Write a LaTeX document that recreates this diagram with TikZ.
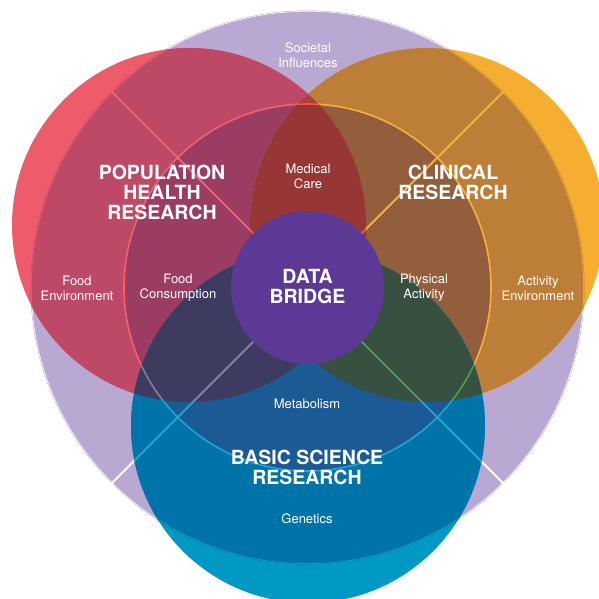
\documentclass[tikz,border=0pt]{standalone}
\usepackage{fontspec}
\setmainfont{TeX Gyre Heros}
\usetikzlibrary{calc}

\definecolor{lavender}{HTML}{B9A8D2}
\definecolor{popout}{HTML}{EE5B6B}
\definecolor{popmid}{HTML}{BD4967}
\definecolor{popin}{HTML}{9B3C63}
\definecolor{popline}{HTML}{F1626D}
\definecolor{clinout}{HTML}{F5AE30}
\definecolor{clinmid}{HTML}{BD7F37}
\definecolor{clinin}{HTML}{925E3B}
\definecolor{clinline}{HTML}{F6B236}
\definecolor{basicout}{HTML}{0099C3}
\definecolor{basicmid}{HTML}{0074A8}
\definecolor{basicin}{HTML}{1B5A94}
\definecolor{basicline}{HTML}{1EA6D0}
\definecolor{medmid}{HTML}{AD3F44}
\definecolor{medin}{HTML}{973735}
\definecolor{medline}{HTML}{F0583E}
\definecolor{navy}{HTML}{3E3B61}
\definecolor{navyline}{HTML}{847E9C}
\definecolor{moss}{HTML}{38503F}
\definecolor{mossline}{HTML}{4A9E5C}
\definecolor{bridge}{HTML}{5B3995}

\tikzset{
  small/.style={text=white, align=center, font=\fontsize{13}{15}\selectfont},
  heading/.style={text=white, align=center, font=\fontsize{19.5}{20}\selectfont\bfseries},
}

% radii
\def\rP{277}
\def\rI{183.5}
\def\rC{177}
\def\rD{76.5}

% white guide lines, redrawn in each circle in its own colour
\newcommand{\guides}[1]{%
  \foreach \a in {45,135,225,315}
    \draw[#1, line width=1.8pt] (core) -- ++(\a:\rP);
  \draw[#1, line width=1.6pt] (core) circle (\rI);
  \draw[#1, line width=0.6pt] (core) circle (\rP-0.8);
}

\begin{document}
\begin{tikzpicture}[x=1pt, y=-1pt]
    \useasboundingbox (0,0) rectangle (598,599);
    \coordinate (core) at (307.5,287.5);
    \coordinate (pop) at (189,225);
    \coordinate (clin) at (427,225);
    \coordinate (basic) at (308,426);

    \fill[lavender] (core) circle (\rP);
    \begin{scope}
        \clip (core) circle (\rP);
        \guides{white}
    \end{scope}

    % the three research circles
    \foreach \c/\col in {pop/pop, clin/clin, basic/basic} {
        \fill[\col out] (\c) circle (\rC);
        \begin{scope}
            \clip (\c) circle (\rC);
            \fill[\col mid] (core) circle (\rP);
            \fill[\col in] (core) circle (\rI);
            \guides{\col line}
        \end{scope}
    }

    % overlaps
    \begin{scope}
        \clip (pop) circle (\rC);
        \clip (clin) circle (\rC);
        \fill[medmid] (core) circle (\rP);
        \fill[medin] (core) circle (\rI);
        \guides{medline}
    \end{scope}
    \begin{scope}
        \clip (pop) circle (\rC);
        \clip (basic) circle (\rC);
        \fill[navy] (core) circle (\rP);
        \guides{navyline}
    \end{scope}
    \begin{scope}
        \clip (clin) circle (\rC);
        \clip (basic) circle (\rC);
        \fill[moss] (core) circle (\rP);
        \guides{mossline}
    \end{scope}

    \fill[bridge] (core) circle (\rD);

    % labels
    \node[small] (societal) at (308,55) {Societal\\Influences};
    \node[small] (medical) at (308,176) {Medical\\Care};
    \node[small] (foodenv) at (77,288) {Food\\Environment};
    \node[small] (foodcons) at (178,288) {Food\\Consumption};
    \node[small] (physical) at (424,288) {Physical\\Activity};
    \node[small] (activenv) at (538,288) {Activity\\Environment};
    \node[small] (metabolism) at (307,404) {Metabolism};
    \node[small] (genetics) at (307,519) {Genetics};

    \node[heading] (popres) at (162,192) {POPULATION\\HEALTH\\RESEARCH};
    \node[heading] (clinres) at (453,182) {CLINICAL\\RESEARCH};
    \node[heading] (data) at (307.5,287) {DATA\\BRIDGE};
    \node[heading] (basicres) at (307,467) {BASIC SCIENCE\\RESEARCH};
\end{tikzpicture}
\end{document}
